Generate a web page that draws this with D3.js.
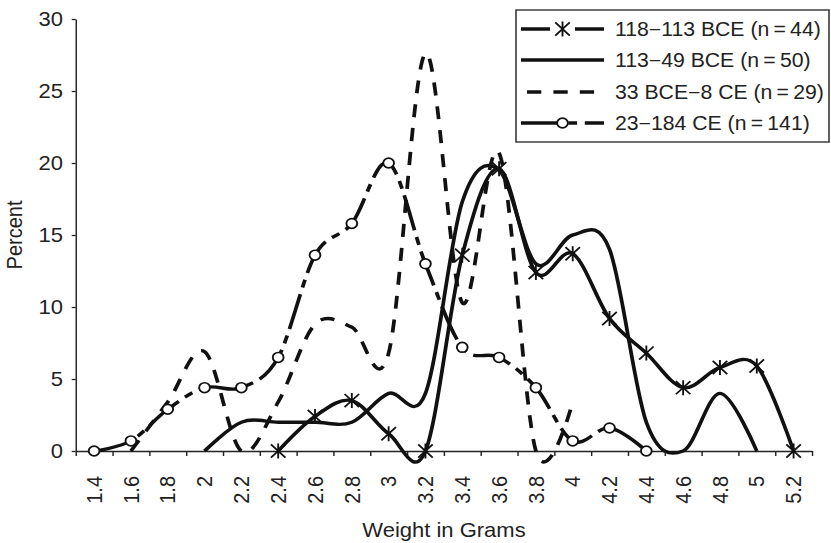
<!DOCTYPE html>
<html>
<head>
<meta charset="utf-8">
<script src="https://cdn.jsdelivr.net/npm/d3@7"></script>
<style>
  body { margin: 0; background: #fff; }
  svg { display: block; font-family: "Liberation Sans", Arial, sans-serif; }
  .axis path, .axis line { stroke: #222; stroke-width: 1.3; }
  .axis text { fill: #222; font-size: 20px; }
</style>
</head>
<body>
<div id="chart"></div>
<script>
// weight classes along the bottom, and the percent ticks
var weights = ['1.4', '1.6', '1.8', '2', '2.2', '2.4', '2.6', '2.8', '3', '3.2',
               '3.4', '3.6', '3.8', '4', '4.2', '4.4', '4.6', '4.8', '5', '5.2'];
var yTicks = [0, 5, 10, 15, 20, 25, 30];

// one value per weight class, null where the series has no point
var bce118 = [null, null, null, null, null, 0, 2.4, 3.5, 1.2, 0, 13.6, 19.6, 12.4, 13.7, 9.2, 6.8, 4.4, 5.8, 5.9, 0];
var bce113 = [null, null, null, 0, 2, 2, 2, 2, 4, 4, 17.3, 19.5, 13, 15, 14, 2, 0, 4, 0, null];
var bce33 = [null, 0, 3.4, 6.9, 0, 3.4, 8.8, 8.6, 6.8, 27.6, 10.3, 20.7, 0, 3.4, null, null, null, null, null, null];
var ce23 = [0, 0.7, 2.9, 4.4, 4.4, 6.5, 13.6, 15.8, 20, 13, 7.2, 6.5, 4.4, 0.7, 1.6, 0, null, null, null, null];

var seriesNames = ['118\u2212113 BCE (n\u2009=\u200944)', '113\u221249 BCE (n\u2009=\u200950)',
                   '33 BCE\u22128 CE (n\u2009=\u200929)', '23\u2212184 CE (n\u2009=\u2009141)'];

var SX = 1.1; // the source picture is a little wider than tall, stretch it the same way
var W = 831, H = 543;

var series = [
  { name: seriesNames[0], values: bce118, dash: null, marker: 'star' },
  { name: seriesNames[1], values: bce113, dash: null, marker: null },
  { name: seriesNames[2], values: bce33, dash: '13,11', marker: null },
  { name: seriesNames[3], values: ce23, dash: '36,7,8,7', marker: 'circle' }
];

var svg = d3.select('#chart').append('svg')
  .attr('width', W)
  .attr('height', H)
  .attr('viewBox', '0 0 ' + (W / SX) + ' ' + H)
  .attr('preserveAspectRatio', 'none');

var x = d3.scaleBand()
  .domain(weights)
  .range([75.7 / SX, 812 / SX]);

var xEdges = d3.scaleLinear()
  .domain([0, weights.length])
  .range(x.range());

var y = d3.scaleLinear()
  .domain([0, 30])
  .range([451, 19]);

// y axis
svg.append('g')
  .attr('class', 'axis')
  .attr('transform', 'translate(' + x.range()[0] + ',0)')
  .call(d3.axisLeft(y).tickValues(yTicks).tickSize(4 / SX).tickSizeOuter(0).tickPadding(8));

// x axis: ticks sit on the class edges, labels on the class middles
svg.append('g')
  .attr('class', 'axis')
  .attr('transform', 'translate(0,' + y(0) + ')')
  .call(d3.axisBottom(xEdges).tickValues(d3.range(0, weights.length + 1)).tickSize(5).tickSizeOuter(0).tickFormat(''));

var xLabels = svg.append('g')
  .attr('class', 'axis')
  .attr('transform', 'translate(0,' + y(0) + ')')
  .call(d3.axisBottom(x).tickSize(0));
xLabels.select('.domain').remove();
xLabels.selectAll('text')
  .attr('transform', 'rotate(-90)')
  .attr('x', -25)
  .attr('y', 0)
  .attr('dy', '0.35em')
  .style('text-anchor', 'end');

// axis titles
svg.append('text')
  .attr('transform', 'translate(' + (21.5 / SX) + ',' + ((y(0) + y(30)) / 2) + ') rotate(-90)')
  .attr('text-anchor', 'middle')
  .style('font-size', '20px')
  .style('fill', '#222')
  .text('Percent');

svg.append('text')
  .attr('x', 444 / SX)
  .attr('y', 537)
  .attr('text-anchor', 'middle')
  .style('font-size', '20px')
  .style('fill', '#222')
  .text('Weight in Grams');

var line = d3.line()
  .x(function(d) { return x(d.w) + x.bandwidth() / 2; })
  .y(function(d) { return y(d.v); })
  .curve(d3.curveCatmullRom.alpha(0));

var starPath = 'M-6.6,-6.6L6.6,6.6M-6.6,6.6L6.6,-6.6M0,-7.5L0,7.5';

function drawMarker(g, kind, px, py) {
  if (kind === 'star') {
    g.append('path')
      .attr('d', starPath)
      .attr('transform', 'translate(' + px + ',' + py + ')')
      .attr('fill', 'none')
      .attr('stroke', '#111')
      .attr('stroke-width', 1.7);
  } else if (kind === 'circle') {
    g.append('circle')
      .attr('cx', px)
      .attr('cy', py)
      .attr('r', 4.9)
      .attr('fill', '#fff')
      .attr('stroke', '#111')
      .attr('stroke-width', 1.7);
  }
}

var plot = svg.append('g');

series.forEach(function(s) {
  var pts = [];
  s.values.forEach(function(v, i) {
    if (v !== null) pts.push({ w: weights[i], v: v });
  });
  var g = plot.append('g');
  g.append('path')
    .datum(pts)
    .attr('d', line)
    .attr('fill', 'none')
    .attr('stroke', '#111')
    .attr('stroke-width', 3.4)
    .attr('stroke-dasharray', s.dash);
  pts.forEach(function(p) {
    drawMarker(g, s.marker, x(p.w) + x.bandwidth() / 2, y(p.v));
  });
});

// legend box, top right
var legend = svg.append('g');
legend.append('rect')
  .attr('x', 516 / SX)
  .attr('y', 10)
  .attr('width', (829 - 516) / SX)
  .attr('height', 132)
  .attr('fill', '#fff')
  .attr('stroke', '#222')
  .attr('stroke-width', 1.3);

var rowY = [29, 60, 92, 123];
var legendDash = [(29 / SX) + ',' + (25 / SX), null, null, '36,7,8,7'];
var legendOffset = [0, 0, -6 / SX, 0];
series.forEach(function(s, i) {
  var row = legend.append('g');
  row.append('line')
    .attr('x1', 521 / SX)
    .attr('x2', 604 / SX)
    .attr('y1', rowY[i])
    .attr('y2', rowY[i])
    .attr('stroke', '#111')
    .attr('stroke-width', 3.4)
    .attr('stroke-dasharray', legendDash[i] || s.dash)
    .attr('stroke-dashoffset', legendOffset[i]);
  drawMarker(row, s.marker, 562.5 / SX, rowY[i]);
  row.append('text')
    .attr('x', 615 / SX)
    .attr('y', rowY[i])
    .attr('dy', '0.35em')
    .style('font-size', '19.3px')
    .style('fill', '#222')
    .text(s.name);
});
</script>
</body>
</html>
